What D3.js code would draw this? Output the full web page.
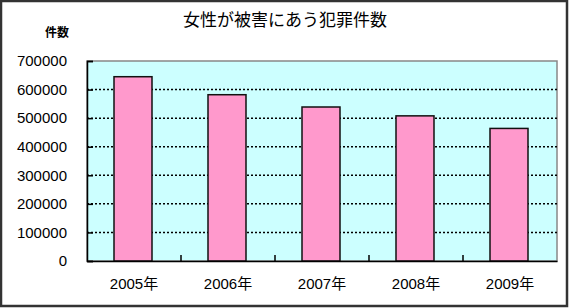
<!DOCTYPE html>
<html lang="ja">
<head>
    <meta charset="utf-8">
    <title>女性が被害にあう犯罪件数</title>
    <script src="https://d3js.org/d3.v7.min.js"></script>
    <style>
        body { margin: 0; }
        text { font-family: "Liberation Sans", "Noto Sans CJK JP", sans-serif; fill: #000; }
    </style>
</head>
<body>
<svg width="569" height="308"></svg>
<script>
    var years = ["2005年", "2006年", "2007年", "2008年", "2009年"];
    var counts = [645000, 582000, 539000, 508000, 464000];
    var yTicks = [0, 100000, 200000, 300000, 400000, 500000, 600000, 700000];

    var svg = d3.select("svg");
    var width = +svg.attr("width");
    var height = +svg.attr("height");

    // 外枠
    svg.append("rect")
        .attr("x", 1).attr("y", 1)
        .attr("width", width - 3).attr("height", height - 3)
        .attr("fill", "#fff")
        .attr("stroke", "#333")
        .attr("stroke-width", 2.5);

    var plot = {left: 87, right: 557, top: 61, bottom: 261};

    var xScale = d3.scaleBand()
        .domain(years)
        .range([plot.left, plot.right]);

    var yScale = d3.scaleLinear()
        .domain([0, 700000])
        .range([plot.bottom, plot.top]);

    // 背景
    svg.append("rect")
        .attr("x", plot.left).attr("y", plot.top)
        .attr("width", plot.right - plot.left)
        .attr("height", plot.bottom - plot.top)
        .attr("fill", "#ccffff")
        .attr("stroke", "#888")
        .attr("stroke-width", 1.5);

    // グリッド線
    svg.append("g")
        .selectAll("line")
        .data(yTicks.filter(function(d){ return d > 0 && d < 700000; }))
        .enter()
        .append("line")
        .attr("x1", plot.left).attr("x2", plot.right)
        .attr("y1", function(d){ return yScale(d); })
        .attr("y2", function(d){ return yScale(d); })
        .attr("stroke", "#000")
        .attr("stroke-width", 1.5)
        .attr("stroke-dasharray", "2,2");

    // 棒
    var barW = 38;
    svg.append("g")
        .selectAll("rect")
        .data(counts)
        .enter()
        .append("rect")
        .attr("x", function(d, i){ return xScale(years[i]) + (xScale.bandwidth() - barW) / 2 - 1; })
        .attr("y", function(d){ return yScale(d); })
        .attr("width", barW)
        .attr("height", function(d){ return yScale(0) - yScale(d); })
        .attr("fill", "#ff99cc")
        .attr("stroke", "#111")
        .attr("stroke-width", 1.5);

    // Y軸
    var yAxis = d3.axisLeft(yScale)
        .tickValues(yTicks)
        .tickSize(-6)
        .tickPadding(20)
        .tickFormat(d3.format("d"));
    var gy = svg.append("g")
        .attr("transform", "translate(" + plot.left + ",0)")
        .call(yAxis);
    gy.select(".domain").attr("stroke", "#000").attr("stroke-width", 1.5);
    gy.selectAll(".tick line").attr("stroke", "#000").attr("stroke-width", 1.5);
    gy.selectAll(".tick text")
        .style("font-family", "'Liberation Sans', sans-serif")
        .style("font-size", "15px");

    // X軸
    var xAxis = d3.axisBottom(xScale)
        .tickSize(0)
        .tickPadding(17);
    var gx = svg.append("g")
        .attr("transform", "translate(0," + plot.bottom + ")")
        .call(xAxis);
    gx.select(".domain").attr("stroke", "#000").attr("stroke-width", 1.5);
    gx.selectAll(".tick text")
        .style("font-family", "'Liberation Sans', 'Noto Sans CJK JP', sans-serif")
        .style("font-size", "15px");

    // X軸の目盛り（カテゴリ境界）
    svg.append("g")
        .selectAll("line")
        .data(years.slice(1))
        .enter()
        .append("line")
        .attr("x1", function(d){ return xScale(d); })
        .attr("x2", function(d){ return xScale(d); })
        .attr("y1", plot.bottom)
        .attr("y2", plot.bottom - 6)
        .attr("stroke", "#000")
        .attr("stroke-width", 1.5);

    // タイトル
    svg.append("text")
        .attr("x", 285).attr("y", 26)
        .attr("text-anchor", "middle")
        .style("font-family", "'Noto Sans CJK JP', sans-serif")
        .style("font-size", "17px")
        .text("女性が被害にあう犯罪件数");

    svg.append("text")
        .attr("x", 57).attr("y", 37)
        .attr("text-anchor", "middle")
        .style("font-family", "'Noto Sans CJK JP', sans-serif")
        .style("font-size", "12px")
        .style("font-weight", "bold")
        .text("件数");
</script>
</body>
</html>
